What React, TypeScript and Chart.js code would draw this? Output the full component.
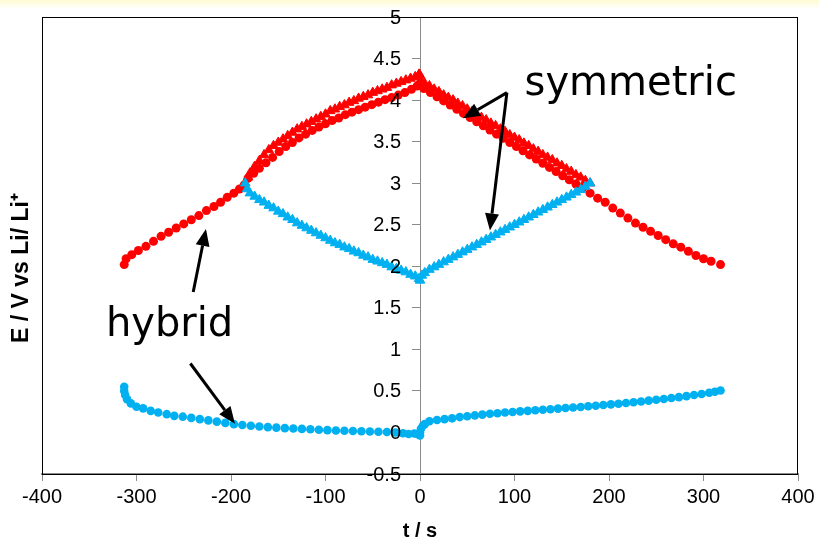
import React, { useEffect, useRef } from "react";
import { Chart, registerables } from "chart.js";

Chart.register(...registerables);

// ---- data (t in s, E in V vs Li/Li+) ----
const symBlueT = [-185,-183,-180,-175,-170,-165,-160,-155,-150,-145,-140,-135,-130,-125,-120,-115,-110,-105,-100,-95,-90,-85,-80,-75,-70,-65,-60,-55,-50,-45,-40,-35,-30,-25,-20,-15,-10,-5,-1,0,
  2,5,10,15,20,25,30,35,40,45,50,55,60,65,70,75,80,85,90,95,100,105,110,115,120,125,130,135,140,145,150,155,160,165,170,175,180];
const symBlueV = [3.00,2.93,2.88,2.84,2.80,2.77,2.73,2.70,2.66,2.63,2.59,2.56,2.52,2.49,2.46,2.43,2.40,2.37,2.34,2.31,2.28,2.26,2.23,2.21,2.18,2.16,2.13,2.11,2.08,2.06,2.04,2.02,1.99,1.97,1.95,1.93,1.90,1.88,1.85,1.83,
  1.89,1.92,1.96,1.99,2.02,2.05,2.08,2.11,2.14,2.17,2.20,2.23,2.26,2.29,2.32,2.35,2.38,2.41,2.44,2.47,2.50,2.53,2.56,2.59,2.62,2.65,2.68,2.71,2.74,2.77,2.80,2.83,2.86,2.89,2.92,2.96,3.00];

const symRedT = [-185,-182,-180,-175,-170,-165,-160,-155,-150,-145,-140,-135,-130,-125,-120,-115,-110,-105,-100,-95,-90,-85,-80,-75,-70,-65,-60,-55,-50,-45,-40,-35,-30,-25,-20,-15,-10,-5,-1,
  0,2,5,10,15,20,25,30,35,40,45,50,55,60,65,70,75,80,85,90,95,100,105,110,115,120,125,130,135,140,145,150,155,160,165,170,175,180];
const symRedV = [3.00,3.07,3.12,3.20,3.27,3.34,3.40,3.45,3.49,3.53,3.57,3.61,3.65,3.68,3.71,3.74,3.77,3.80,3.83,3.87,3.89,3.92,3.94,3.97,3.99,4.02,4.04,4.06,4.09,4.11,4.13,4.15,4.18,4.20,4.22,4.24,4.26,4.28,4.31,
  4.30,4.22,4.20,4.17,4.13,4.10,4.06,4.03,4.00,3.96,3.93,3.89,3.86,3.82,3.79,3.76,3.72,3.69,3.65,3.62,3.58,3.55,3.52,3.48,3.45,3.41,3.38,3.34,3.31,3.28,3.24,3.21,3.17,3.14,3.10,3.07,3.03,3.00];

const hybRedT = [-313,-311,-305,-298,-290,-282,-274,-266,-258,-250,-242,-234,-226,-218,-211,-204,-197,-191,-186,
  -182,-176,-170,-163,-156,-149,-142,-135,-128,-121,-114,-107,-100,-93,-86,-79,-72,-65,-58,-51,-44,-37,-30,-23,-16,-9,-3,0,
  4,11,18,25,32,39,46,53,60,67,74,81,88,95,102,109,116,123,130,137,144,151,158,165,172,
  180,188,196,204,212,220,228,236,244,252,260,268,276,284,292,300,308,318];
const hybRedV = [2.02,2.09,2.14,2.19,2.24,2.30,2.36,2.41,2.46,2.51,2.56,2.61,2.67,2.72,2.77,2.83,2.88,2.93,2.98,
  3.06,3.12,3.18,3.245,3.31,3.38,3.44,3.49,3.545,3.59,3.635,3.675,3.715,3.755,3.785,3.825,3.855,3.885,3.915,3.945,3.975,4.005,4.03,4.06,4.09,4.13,4.17,4.20,
  4.14,4.09,4.04,3.99,3.94,3.89,3.84,3.79,3.74,3.69,3.64,3.59,3.54,3.49,3.44,3.39,3.34,3.29,3.24,3.19,3.14,3.09,3.04,2.99,2.94,
  2.88,2.82,2.77,2.70,2.64,2.58,2.52,2.47,2.42,2.37,2.32,2.27,2.23,2.18,2.13,2.09,2.06,2.02];

const hybBlueT = [-313,-313,-312,-310,-306,-300,-293,-285,-277,-268,-260,-251,-242,-233,-224,-215,-206,-197,-188,-179,-170,-161,-152,-143,-134,-125,-116,-107,-98,-89,-80,-71,-62,-53,-44,-35,-26,-18,-12,-6,-2,0,
  0,1,3,5,10,18,26,34,42,50,58,66,74,82,90,98,106,114,122,130,138,146,154,162,170,178,186,194,202,210,218,226,234,242,250,258,266,274,282,290,298,306,312,318];
const hybBlueV = [0.55,0.50,0.45,0.40,0.35,0.31,0.29,0.26,0.24,0.22,0.20,0.19,0.175,0.16,0.145,0.13,0.115,0.10,0.09,0.08,0.072,0.064,0.058,0.052,0.047,0.043,0.038,0.033,0.028,0.023,0.02,0.017,0.014,0.011,0.008,0.005,0.0,-0.01,-0.018,-0.012,-0.02,-0.035,
  0.0,0.045,0.08,0.10,0.135,0.15,0.16,0.17,0.185,0.195,0.205,0.215,0.225,0.232,0.24,0.247,0.254,0.26,0.267,0.273,0.28,0.287,0.294,0.30,0.307,0.315,0.322,0.33,0.338,0.346,0.355,0.364,0.373,0.383,0.393,0.403,0.414,0.425,0.437,0.45,0.463,0.477,0.49,0.505];

// axis ranges / ticks
const xMin = -400, xMax = 400, xStep = 100;
const yMin = -0.5, yMax = 5, yStep = 0.5;
const xTitle = "t / s";
const yTitle = "E / V vs Li/ Li\u207A";

// annotations (data coordinates)
const labelTexts = ["symmetric", "hybrid"];
const labelT = [223, -265];
const labelV = [4.19, 1.28];
const arrowFromT = [92, 92, -240, -243];
const arrowFromV = [4.09, 4.09, 1.69, 0.83];
const arrowToT = [45.5, 74, -226.5, -195.8];
const arrowToV = [3.78, 2.43, 2.45, 0.105];

const RED = "#FF0000";
const BLUE = "#00B0F0";
const TICK_FONT = '"Liberation Sans Narrow", "Arial Narrow", "Liberation Sans", Arial, sans-serif';
const BOLD_FONT = '"Liberation Sans", Arial, sans-serif';
const HAND_FONT = '"Comic Sans MS", "DejaVu Sans", sans-serif';

const zip = (t: number[], v: number[]) => t.map((x, i) => ({ x, y: v[i] }));

const overlayPlugin = {
  id: "overlay",
  beforeDatasetsDraw(chart: any) {
    const { ctx, chartArea } = chart;
    ctx.save();
    ctx.strokeStyle = "#000";
    ctx.lineWidth = 1;
    ctx.strokeRect(chartArea.left + 0.5, chartArea.top + 0.5, chartArea.right - chartArea.left - 1, chartArea.bottom - chartArea.top);
    ctx.restore();
  },
  afterDatasetsDraw(chart: any) {
    const { ctx, scales } = chart;
    const xs = scales.x, ys = scales.y;
    ctx.save();
    // arrows
    ctx.strokeStyle = "#000";
    ctx.fillStyle = "#000";
    ctx.lineWidth = 3;
    for (let i = 0; i < arrowFromT.length; i++) {
      const x0 = xs.getPixelForValue(arrowFromT[i]);
      const y0 = ys.getPixelForValue(arrowFromV[i]);
      const x1 = xs.getPixelForValue(arrowToT[i]);
      const y1 = ys.getPixelForValue(arrowToV[i]);
      const ang = Math.atan2(y1 - y0, x1 - x0);
      const hl = 17, hw = 7;
      const bx = x1 - hl * Math.cos(ang), by = y1 - hl * Math.sin(ang);
      ctx.beginPath();
      ctx.moveTo(x0, y0);
      ctx.lineTo(bx, by);
      ctx.stroke();
      ctx.beginPath();
      ctx.moveTo(x1, y1);
      ctx.lineTo(bx + hw * Math.sin(ang), by - hw * Math.cos(ang));
      ctx.lineTo(bx - hw * Math.sin(ang), by + hw * Math.cos(ang));
      ctx.closePath();
      ctx.fill();
    }
    // labels
    ctx.font = `40px ${HAND_FONT}`;
    ctx.textAlign = "center";
    ctx.textBaseline = "middle";
    for (let i = 0; i < labelTexts.length; i++) {
      ctx.fillText(labelTexts[i], xs.getPixelForValue(labelT[i]), ys.getPixelForValue(labelV[i]));
    }
    ctx.restore();
  },
  afterDraw(chart: any) {
    const { ctx, scales } = chart;
    const xs = scales.x, ys = scales.y;
    ctx.save();
    ctx.fillStyle = "#000";
    // y tick labels, right-aligned left of the central axis
    ctx.font = `20px ${TICK_FONT}`;
    ctx.textAlign = "right";
    ctx.textBaseline = "middle";
    const axisX = xs.getPixelForValue(0);
    for (const tk of ys.ticks) {
      ctx.fillText(String(Math.round(tk.value * 10) / 10), axisX - 19, ys.getPixelForValue(tk.value) + 1);
    }
    // y title at far left
    ctx.textAlign = "center";
    ctx.font = `bold 23px ${BOLD_FONT}`;
    ctx.translate(22, 268);
    ctx.rotate(-Math.PI / 2);
    ctx.fillText(yTitle, 0, 0);
    ctx.restore();
  },
};

export default function App() {
  const ref = useRef<HTMLCanvasElement>(null);
  useEffect(() => {
    if (!ref.current) return;
    const chart = new Chart(ref.current, {
      type: "scatter",
      data: {
        datasets: [
          { data: zip(symBlueT, symBlueV), pointStyle: "triangle", pointRadius: 5.5, backgroundColor: BLUE, borderColor: BLUE, borderWidth: 1, showLine: false },
          { data: zip(hybBlueT, hybBlueV), pointStyle: "circle", pointRadius: 4.3, backgroundColor: BLUE, borderColor: BLUE, borderWidth: 0, showLine: false },
          { data: zip(symRedT, symRedV), pointStyle: "triangle", pointRadius: 5.5, backgroundColor: RED, borderColor: RED, borderWidth: 1, showLine: false },
          { data: zip(hybRedT, hybRedV), pointStyle: "circle", pointRadius: 4.5, backgroundColor: RED, borderColor: RED, borderWidth: 0, showLine: false },
        ],
      },
      options: {
        animation: false,
        responsive: true,
        maintainAspectRatio: false,
        layout: { padding: { left: 42, right: 21, top: 17, bottom: 0 } },
        plugins: { legend: { display: false }, tooltip: { enabled: false } },
        scales: {
          x: {
            type: "linear",
            min: xMin,
            max: xMax,
            ticks: { stepSize: xStep, color: "#000", font: { family: TICK_FONT, size: 20 }, padding: 4, maxRotation: 0 },
            grid: { drawOnChartArea: false, tickLength: 7, color: "#8c8c8c", lineWidth: 1 },
            border: { color: "#8c8c8c", width: 2 },
            title: { display: true, text: xTitle, color: "#000", font: { family: BOLD_FONT, size: 20, weight: "bold" }, padding: 0 },
            afterFit: (s: any) => { s.height = 69; },
          },
          y: {
            type: "linear",
            position: { x: 0 },
            min: yMin,
            max: yMax,
            ticks: { stepSize: yStep, display: false },
            grid: { drawOnChartArea: false, tickLength: 8, color: "#8c8c8c", lineWidth: 1 },
            border: { color: "#8c8c8c", width: 1 },
            afterFit: (s: any) => { s.width = 0; },
          },
        },
      } as any,
      plugins: [overlayPlugin],
    });
    return () => chart.destroy();
  }, []);
  return (
    <div style={{ position: "fixed", left: 0, top: 0, width: 819, height: 543, background: "linear-gradient(#fffbd2 0px, #ffffff 9px)" }}>
      <canvas ref={ref} />
    </div>
  );
}
